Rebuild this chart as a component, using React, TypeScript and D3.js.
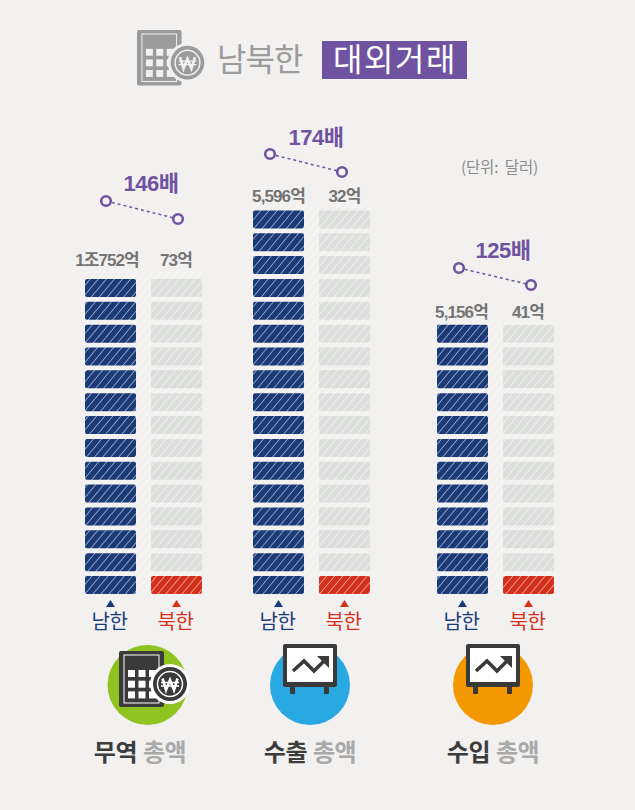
import React from "react";
import * as d3 from "d3";

const groups = ["무역", "수출", "수입"];
const southLabels = ["1조752억", "5,596억", "5,156억"];
const northLabels = ["73억", "32억", "41억"];
const ratios = ["146배", "174배", "125배"];
const southUnits = [14, 17, 12];
const northRedUnits = [1, 1, 1];
const circleColors = ["#8fc31f", "#29a9e1", "#f39800"];
const groupLeft = [85, 253, 437];
const NAVY = "#1b3a78";
const RED = "#d5301c";
const GREY = "#dcdedc";
const PURPLE = "#6f53a0";
const CJK = "'Noto Sans CJK KR', 'Noto Sans', sans-serif";
const FONT = `'Liberation Sans', ${CJK}`;

const BAR_W = 51;
const BAR_H = 18;
const NORTH_DX = 66;

// per-group layout of the annotation
const dotStart = [[106, 201], [270, 154], [459, 268]];
const dotEnd = [[178, 219], [342, 172], [531, 285]];
const ratioPos = [[151, 191], [316, 145], [503, 258]];
const southLabelPos = [[107, 266], [278.5, 202], [461.5, 318]];
const northLabelPos = [[176, 266], [344.5, 202], [528, 318]];
const circleCx = [147.5, 310, 493];
const totalCx = [140, 310, 493];

const unitY = d3.scaleLinear().domain([0, 1]).range([576, 553.15]);

function CalcIcon({ x, y, s, dark, light }: { x: number; y: number; s: number; dark: string; light: string }) {
  const cells = d3.range(3).flatMap((r) => d3.range(3).map((c) => [c, r]));
  return (
    <g transform={`translate(${x},${y}) scale(${s})`}>
      <rect x={0} y={0} width={45} height={56} rx={2} fill={dark} />
      <rect x={5} y={4} width={35} height={48} fill="none" stroke={light} strokeWidth={1} />
      <rect x={7} y={6} width={31} height={9} fill={dark} />
      {cells.map(([c, r]) => (
        <rect key={`${c}-${r}`} x={9 + c * 10.5} y={19 + r * 10.7} width={7} height={7} fill={light} />
      ))}
      <circle cx={51} cy={33} r={20} fill={light} />
      <circle cx={51} cy={33} r={17} fill={dark} />
      <circle cx={51} cy={33} r={12.5} fill="none" stroke={light} strokeWidth={1.5} />
      <path d="M43.5 27.5 L47 39 L51 29 L55 39 L58.5 27.5" fill="none" stroke={light} strokeWidth={2.6} />
      <path d="M42 31.5 H60 M42 35 H60" stroke={light} strokeWidth={1.3} />
    </g>
  );
}

function BoardIcon({ x, y }: { x: number; y: number }) {
  return (
    <g transform={`translate(${x},${y})`}>
      <rect x={7} y={42} width={5} height={8} rx={1} fill="#3a3a3a" />
      <rect x={41} y={42} width={5} height={8} rx={1} fill="#3a3a3a" />
      <rect x={0} y={0} width={54} height={43} rx={2} fill="#3a3a3a" />
      <rect x={4} y={4} width={46} height={34} fill="#ffffff" />
      <path d="M10 27 L21 17 L31 27 L43 15" fill="none" stroke="#3a3a3a" strokeWidth={3.6} />
      <path d="M34 12 L46 12 L46 24 Z" fill="#3a3a3a" />
    </g>
  );
}

export default function App() {
  return (
    <svg
      width={635}
      height={810}
      viewBox="0 0 635 810"
      style={{ position: "absolute", left: 0, top: 0, background: "#f2f1f0", fontFamily: FONT }}
    >
      <defs>
        <pattern id="hatch" width={6.2} height={6.2} patternUnits="userSpaceOnUse" patternTransform="rotate(-50)">
          <rect width={6.2} height={0.8} fill="#ffffff" opacity={0.6} />
        </pattern>
      </defs>

      <CalcIcon x={137} y={30} s={0.99} dark="#9b9b9b" light="#f2f1f0" />
      <text x={217} y={71} fontSize={32} fill="#9b9b9b" letterSpacing={-1} fontFamily={CJK}>남북한</text>
      <rect x={322} y={41} width={145} height={38} fill={PURPLE} />
      <text x={395} y={71} fontSize={32} fill="#ffffff" textAnchor="middle" letterSpacing={1.5} fontFamily={CJK}>대외거래</text>

      <text x={499.5} y={173} fontSize={15.5} fill="#8b8b8b" textAnchor="middle" letterSpacing={-0.2} fontFamily={CJK}>(단위:{"\u00a0\u00a0"}달러)</text>

      {groups.map((g, i) => {
        const left = groupLeft[i];
        const n = southUnits[i];
        const topY = unitY(n - 1);
        const units = d3.range(n);
        const cx = left + BAR_W / 2;
        const nx = left + NORTH_DX + BAR_W / 2;
        return (
          <g key={g}>
            <text x={ratioPos[i][0]} y={ratioPos[i][1]} fontSize={22} fontWeight={700} fill={PURPLE} textAnchor="middle" letterSpacing={-0.5}>
              {ratios[i]}
            </text>
            <line x1={dotStart[i][0]} y1={dotStart[i][1]} x2={dotEnd[i][0]} y2={dotEnd[i][1]} stroke={PURPLE} strokeWidth={1.5} strokeDasharray="3 3" />
            <circle cx={dotStart[i][0]} cy={dotStart[i][1]} r={4.8} fill="#f2f1f0" stroke={PURPLE} strokeWidth={2.6} />
            <circle cx={dotEnd[i][0]} cy={dotEnd[i][1]} r={4.8} fill="#f2f1f0" stroke={PURPLE} strokeWidth={2.6} />

            <text x={southLabelPos[i][0]} y={southLabelPos[i][1]} fontSize={17} fontWeight={700} fill="#747474" textAnchor="middle" letterSpacing={-0.9}>
              {southLabels[i]}
            </text>
            <text x={northLabelPos[i][0]} y={northLabelPos[i][1]} fontSize={17} fontWeight={700} fill="#747474" textAnchor="middle" letterSpacing={-0.9}>
              {northLabels[i]}
            </text>

            {units.map((u) => (
              <g key={u}>
                <rect x={left} y={unitY(u)} width={BAR_W} height={BAR_H} rx={2} fill={NAVY} />
                <rect x={left + NORTH_DX} y={unitY(u)} width={BAR_W} height={BAR_H} rx={2} fill={u < northRedUnits[i] ? RED : GREY} />
              </g>
            ))}
            <rect x={left} y={topY - 8} width={BAR_W + 66} height={594 - topY + 8} fill="url(#hatch)" />

            <path d={`M${cx} 600 l-4.5 7 h9 Z`} fill={NAVY} />
            <path d={`M${nx} 600 l-4.5 7 h9 Z`} fill={RED} />
            <text x={cx - 1} y={629} fontSize={20} fill={NAVY} textAnchor="middle" letterSpacing={-0.5} fontFamily={CJK}>남한</text>
            <text x={nx - 1} y={629} fontSize={20} fill={RED} textAnchor="middle" letterSpacing={-0.5} fontFamily={CJK}>북한</text>

            <circle cx={circleCx[i]} cy={685} r={40} fill={circleColors[i]} />
            {i === 0 ? (
              <CalcIcon x={119} y={651} s={1.0} dark="#3a3a3a" light="#ffffff" />
            ) : (
              <BoardIcon x={circleCx[i] - 27} y={644} />
            )}
            <text x={totalCx[i] - 3} y={761} fontSize={24} fontWeight={700} fill="#3c3c3c" textAnchor="end" letterSpacing={-0.5} fontFamily={CJK}>
              {g}
            </text>
            <text x={totalCx[i] + 3} y={761} fontSize={24} fontWeight={700} fill="#a9a9a9" letterSpacing={-0.5} fontFamily={CJK}>
              총액
            </text>
          </g>
        );
      })}
    </svg>
  );
}
